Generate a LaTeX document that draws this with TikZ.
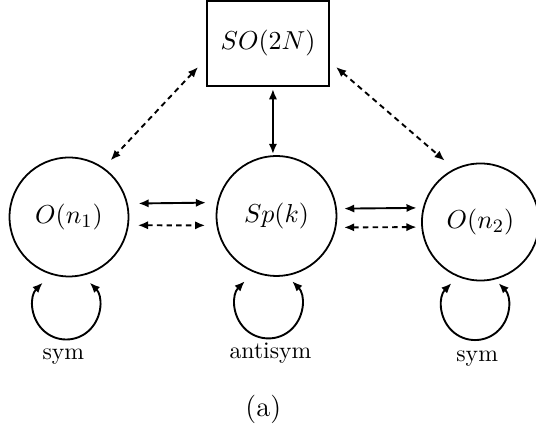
\documentclass[tikz,border=0pt]{standalone}
\usetikzlibrary{arrows.meta}
\begin{document}
\begin{tikzpicture}[x=0.422pt,y=0.422pt,
  every node/.style={outer sep=0pt, inner sep=0pt},
  grp/.style={draw, circle, line width=0.75pt, minimum size=#1},
  boxnode/.style={draw, rectangle, line width=0.75pt, minimum width=51.5pt, minimum height=35.9pt},
  mathlbl/.style={font=\fontsize{11}{13}\selectfont},
  txtlbl/.style={font=\fontsize{10}{12}\selectfont, anchor=base},
  tip/.tip={Latex[length=4.3pt,width=3.5pt]},
  con/.style={line width=0.8pt, tip-tip},
  dsh/.style={con, dash pattern=on 2.3pt off 1.8pt},
  loopar/.style={line width=0.8pt, tip-tip}
]
\useasboundingbox (0,0) rectangle (536,432);

\node[boxnode, mathlbl] (so) at (268,388.5) {$SO(2N)$};
\node[grp=50.2pt, mathlbl] (o1) at (69,215) {$O(n_1)$};
\node[grp=50.6pt, mathlbl] (sp) at (276.5,216) {$Sp(k)$};
\node[grp=49.4pt, mathlbl] (o2) at (480.5,210) {$O(n_2)$};

% vertical
\draw[con, shorten <=0.85pt, shorten >=1.3pt] ([xshift=-1.5pt]sp.north) -- ([xshift=-1.5pt]sp.north |- so.south);

% diagonals
\draw[dsh, shorten <=5.5pt, shorten >=4.6pt] (so.193.9) -- (o1.55.75);
\draw[dsh, shorten <=3.9pt, shorten >=5.65pt] (so.344.1) -- (o2.116.8);

% horizontals
\draw[con, shorten <=4.85pt, shorten >=5.1pt] (o1.13.6) -- (sp.167.5);
\draw[dsh, shorten <=4.2pt, shorten >=5.1pt] (o1.-8.7) -- (sp.189.6);
\draw[con, shorten <=3.4pt, shorten >=2.95pt] (sp.7.7) -- (o2.166.2);
\draw[dsh, shorten <=3.65pt, shorten >=2.35pt] (sp.-11.5) -- (o2.185.9);

% self loops
\draw[loopar] (o1.south) ++(-26.3,-6.2) arc[start angle=135, end angle=405, radius=33.3];
\draw[loopar] (sp.south) ++(-31.7,-5.3) arc[start angle=135, end angle=405, radius=33.5];
\draw[loopar] (o2.south) ++(-29,-2.7) arc[start angle=135, end angle=405, radius=33.3];

% labels
\node[txtlbl] (l1) at (63.3,72) {sym};
\node[txtlbl] (l2) at (270.5,73.7) {antisym};
\node[txtlbl] (l3) at (477.2,70.3) {sym};
\node[font=\fontsize{12}{14}\selectfont, anchor=base] (cap) at (263.3,15.3) {(a)};
\end{tikzpicture}
\end{document}
